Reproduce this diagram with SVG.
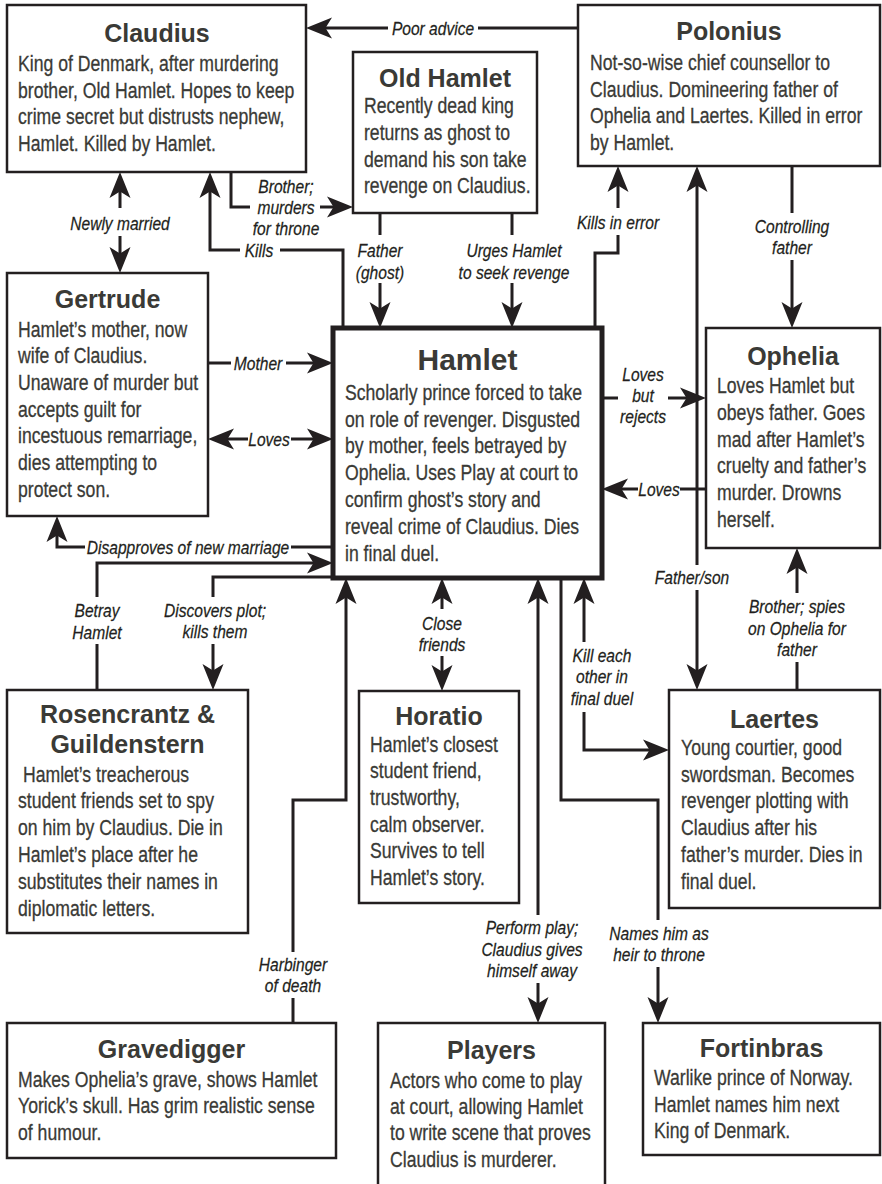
<svg xmlns="http://www.w3.org/2000/svg" width="882" height="1184" viewBox="0 0 882 1184">
<style>
.box{fill:#fff;stroke:#231f20;stroke-width:2.5}
.hbox{fill:#fff;stroke:#231f20;stroke-width:5}
.t{font-family:"Liberation Sans",Arial,sans-serif;font-weight:bold;font-size:25px;fill:#3a3a36;text-anchor:middle}
.b{font-family:"Liberation Sans",Arial,sans-serif;font-size:21.5px;fill:#3a3a36;stroke:#3a3a36;stroke-width:0.3}
.l{font-family:"Liberation Sans",Arial,sans-serif;font-style:italic;font-size:19px;fill:#231f20;stroke:#231f20;stroke-width:0.25;text-anchor:middle}
.c{fill:none;stroke:#231f20;stroke-width:3}
.a{marker-end:url(#ah)}
.aa{marker-start:url(#ah);marker-end:url(#ah)}
</style>
<defs>
<marker id="ah" viewBox="-27 -11 28 22" refX="-8" refY="0" markerWidth="28" markerHeight="22" markerUnits="userSpaceOnUse" orient="auto-start-reverse">
<path d="M0,0 L-26,-10.5 L-19.5,0 L-26,10.5 Z" fill="#231f20"/>
</marker>
</defs>
<rect width="882" height="1184" fill="#fff"/>

<g id="connectors">
<path class="c a" d="M578,28 H478 M388,28 H314"/>
<text class="l" transform="translate(433,34.5) scale(.82,1)">Poor advice</text>
<path class="c aa" d="M120,180 V208 M120,236 V265"/>
<text class="l" transform="translate(120,230) scale(.82,1)">Newly married</text>
<path class="c a" d="M343,328 V250 H280 M240,250 H210 V180"/>
<text class="l" transform="translate(259,257) scale(.82,1)">Kills</text>
<path class="c a" d="M231,172 V207 H250 M320,207 H345"/>
<text class="l" transform="translate(286,192.5) scale(.82,1)">Brother;</text>
<text class="l" transform="translate(286,213.5) scale(.82,1)">murders</text>
<text class="l" transform="translate(286,234.5) scale(.82,1)">for throne</text>
<path class="c a" d="M380,213 V235 M380,283 V320"/>
<text class="l" transform="translate(380,256.5) scale(.82,1)">Father</text>
<text class="l" transform="translate(380,278.5) scale(.82,1)">(ghost)</text>
<path class="c a" d="M512,213 V235 M512,283 V320"/>
<text class="l" transform="translate(514,256.5) scale(.82,1)">Urges Hamlet</text>
<text class="l" transform="translate(514,278.5) scale(.82,1)">to seek revenge</text>
<path class="c a" d="M595,328 V253 H618 V235 M618,208 V174"/>
<text class="l" transform="translate(618,228.5) scale(.82,1)">Kills in error</text>
<path class="c a" d="M792,166 V213 M792,260 V320"/>
<text class="l" transform="translate(792,233) scale(.82,1)">Controlling</text>
<text class="l" transform="translate(792,254) scale(.82,1)">father</text>
<path class="c aa" d="M697,174 V565 M697,590 V682"/>
<text class="l" transform="translate(692,583.5) scale(.82,1)">Father/son</text>
<path class="c a" d="M208,363 H231 M286,363 H325"/>
<text class="l" transform="translate(258,369.5) scale(.82,1)">Mother</text>
<path class="c aa" d="M216,439 H248 M291,439 H325"/>
<text class="l" transform="translate(269,445.5) scale(.82,1)">Loves</text>
<path class="c a" d="M333,547 H291 M85,547 H57 V524"/>
<text class="l" transform="translate(188,553.5) scale(.82,1)">Disapproves of new marriage</text>
<path class="c a" d="M97,690 V644 M97,597 V563 H325"/>
<text class="l" transform="translate(97,617) scale(.82,1)">Betray</text>
<text class="l" transform="translate(97,639) scale(.82,1)">Hamlet</text>
<path class="c a" d="M333,577 H213 V597 M213,644 V682"/>
<text class="l" transform="translate(215,617) scale(.82,1)">Discovers plot;</text>
<text class="l" transform="translate(215,638) scale(.82,1)">kills them</text>
<path class="c a" d="M293,1023 V998 M293,952 V800 H346 V586"/>
<text class="l" transform="translate(293,971) scale(.82,1)">Harbinger</text>
<text class="l" transform="translate(293,992) scale(.82,1)">of death</text>
<path class="c aa" d="M442,586 V609 M442,656 V683"/>
<text class="l" transform="translate(442,630) scale(.82,1)">Close</text>
<text class="l" transform="translate(442,651) scale(.82,1)">friends</text>
<path class="c aa" d="M538,586 V915 M538,983 V1015"/>
<text class="l" transform="translate(532,934) scale(.82,1)">Perform play;</text>
<text class="l" transform="translate(532,956) scale(.82,1)">Claudius gives</text>
<text class="l" transform="translate(532,977) scale(.82,1)">himself away</text>
<path class="c a" d="M561,578 V800 H658 V920 M658,967 V1015"/>
<text class="l" transform="translate(659,940) scale(.82,1)">Names him as</text>
<text class="l" transform="translate(659,961) scale(.82,1)">heir to throne</text>
<path class="c aa" d="M584,586 V642 M584,712 V750 H661"/>
<text class="l" transform="translate(602,662) scale(.82,1)">Kill each</text>
<text class="l" transform="translate(602,683) scale(.82,1)">other in</text>
<text class="l" transform="translate(602,705) scale(.82,1)">final duel</text>
<path class="c a" d="M797,690 V662 M797,593 V556"/>
<text class="l" transform="translate(797,613) scale(.82,1)">Brother; spies</text>
<text class="l" transform="translate(797,634.5) scale(.82,1)">on Ophelia for</text>
<text class="l" transform="translate(797,656) scale(.82,1)">father</text>
<path class="c a" d="M602,398 H618 M668,398 H698"/>
<text class="l" transform="translate(643,381) scale(.82,1)">Loves</text>
<text class="l" transform="translate(643,402) scale(.82,1)">but</text>
<text class="l" transform="translate(643,423) scale(.82,1)">rejects</text>
<path class="c a" d="M706,489 H680 M638,489 H610"/>
<text class="l" transform="translate(659,495.5) scale(.82,1)">Loves</text>
</g>

<g id="claudius">
<rect class="box" x="7" y="5" width="299" height="167"/>
<text class="t" x="157" y="42">Claudius</text>
<g transform="translate(18,0) scale(.82,1)">
<text class="b" x="0" y="71">King of Denmark, after murdering</text>
<text class="b" x="0" y="98">brother, Old Hamlet. Hopes to keep</text>
<text class="b" x="0" y="124.5">crime secret but distrusts nephew,</text>
<text class="b" x="0" y="151">Hamlet. Killed by Hamlet.</text>
</g>
</g>

<g id="old-hamlet">
<rect class="box" x="353" y="52" width="184" height="161"/>
<text class="t" x="445" y="87">Old Hamlet</text>
<g transform="translate(364,0) scale(.82,1)">
<text class="b" x="0" y="113">Recently dead king</text>
<text class="b" x="0" y="140">returns as ghost to</text>
<text class="b" x="0" y="167">demand his son take</text>
<text class="b" x="0" y="193">revenge on Claudius.</text>
</g>
</g>

<g id="polonius">
<rect class="box" x="578" y="5" width="302" height="161"/>
<text class="t" x="729" y="40">Polonius</text>
<g transform="translate(590,0) scale(.82,1)">
<text class="b" x="0" y="70">Not-so-wise chief counsellor to</text>
<text class="b" x="0" y="97">Claudius. Domineering father of</text>
<text class="b" x="0" y="123">Ophelia and Laertes. Killed in error</text>
<text class="b" x="0" y="150">by Hamlet.</text>
</g>
</g>

<g id="gertrude">
<rect class="box" x="7" y="273" width="201" height="243"/>
<text class="t" x="107.5" y="308">Gertrude</text>
<g transform="translate(18,0) scale(.82,1)">
<text class="b" x="0" y="337">Hamlet’s mother, now</text>
<text class="b" x="0" y="363.5">wife of Claudius.</text>
<text class="b" x="0" y="390">Unaware of murder but</text>
<text class="b" x="0" y="417">accepts guilt for</text>
<text class="b" x="0" y="443.5">incestuous remarriage,</text>
<text class="b" x="0" y="470">dies attempting to</text>
<text class="b" x="0" y="497">protect son.</text>
</g>
</g>

<g id="hamlet">
<rect class="hbox" x="333" y="328" width="269" height="250"/>
<text class="t" x="467.5" y="370" style="font-size:30px">Hamlet</text>
<g transform="translate(345,0) scale(.82,1)">
<text class="b" x="0" y="400">Scholarly prince forced to take</text>
<text class="b" x="0" y="427">on role of revenger. Disgusted</text>
<text class="b" x="0" y="453.5">by mother, feels betrayed by</text>
<text class="b" x="0" y="480">Ophelia. Uses Play at court to</text>
<text class="b" x="0" y="507">confirm ghost’s story and</text>
<text class="b" x="0" y="534">reveal crime of Claudius. Dies</text>
<text class="b" x="0" y="561">in final duel.</text>
</g>
</g>

<g id="ophelia">
<rect class="box" x="706" y="328" width="174" height="220"/>
<text class="t" x="793" y="365">Ophelia</text>
<g transform="translate(717,0) scale(.82,1)">
<text class="b" x="0" y="393">Loves Hamlet but</text>
<text class="b" x="0" y="420">obeys father. Goes</text>
<text class="b" x="0" y="447">mad after Hamlet’s</text>
<text class="b" x="0" y="473">cruelty and father’s</text>
<text class="b" x="0" y="500">murder. Drowns</text>
<text class="b" x="0" y="527">herself.</text>
</g>
</g>

<g id="rosencrantz-guildenstern">
<rect class="box" x="7" y="690" width="241" height="243"/>
<text class="t" x="127.5" y="723">Rosencrantz &amp;</text>
<text class="t" x="127.5" y="753">Guildenstern</text>
<g transform="translate(18,0) scale(.82,1)">
<text class="b" x="6" y="782">Hamlet’s treacherous</text>
<text class="b" x="0" y="808.5">student friends set to spy</text>
<text class="b" x="0" y="835">on him by Claudius. Die in</text>
<text class="b" x="0" y="862">Hamlet’s place after he</text>
<text class="b" x="0" y="889">substitutes their names in</text>
<text class="b" x="0" y="916">diplomatic letters.</text>
</g>
</g>

<g id="horatio">
<rect class="box" x="359" y="691" width="160" height="212"/>
<text class="t" x="439" y="725">Horatio</text>
<g transform="translate(370,0) scale(.82,1)">
<text class="b" x="0" y="752">Hamlet’s closest</text>
<text class="b" x="0" y="778.5">student friend,</text>
<text class="b" x="0" y="805">trustworthy,</text>
<text class="b" x="0" y="832">calm observer.</text>
<text class="b" x="0" y="858.5">Survives to tell</text>
<text class="b" x="0" y="885">Hamlet’s story.</text>
</g>
</g>

<g id="laertes">
<rect class="box" x="669" y="690" width="211" height="218"/>
<text class="t" x="774.5" y="728">Laertes</text>
<g transform="translate(681,0) scale(.82,1)">
<text class="b" x="0" y="755">Young courtier, good</text>
<text class="b" x="0" y="782">swordsman. Becomes</text>
<text class="b" x="0" y="808.5">revenger plotting with</text>
<text class="b" x="0" y="835">Claudius after his</text>
<text class="b" x="0" y="862">father’s murder. Dies in</text>
<text class="b" x="0" y="889">final duel.</text>
</g>
</g>

<g id="gravedigger">
<rect class="box" x="7" y="1023" width="329" height="135"/>
<text class="t" x="171.5" y="1058">Gravedigger</text>
<g transform="translate(18,0) scale(.82,1)">
<text class="b" x="0" y="1087">Makes Ophelia’s grave, shows Hamlet</text>
<text class="b" x="0" y="1113.5">Yorick’s skull. Has grim realistic sense</text>
<text class="b" x="0" y="1140">of humour.</text>
</g>
</g>

<g id="players">
<rect class="box" x="378" y="1023" width="227" height="175"/>
<text class="t" x="491.5" y="1059">Players</text>
<g transform="translate(390,0) scale(.82,1)">
<text class="b" x="0" y="1088">Actors who come to play</text>
<text class="b" x="0" y="1114">at court, allowing Hamlet</text>
<text class="b" x="0" y="1140.5">to write scene that proves</text>
<text class="b" x="0" y="1167">Claudius is murderer.</text>
</g>
</g>

<g id="fortinbras">
<rect class="box" x="643" y="1023" width="237" height="132"/>
<text class="t" x="761.5" y="1057">Fortinbras</text>
<g transform="translate(654,0) scale(.82,1)">
<text class="b" x="0" y="1085">Warlike prince of Norway.</text>
<text class="b" x="0" y="1112">Hamlet names him next</text>
<text class="b" x="0" y="1138">King of Denmark.</text>
</g>
</g>
</svg>
